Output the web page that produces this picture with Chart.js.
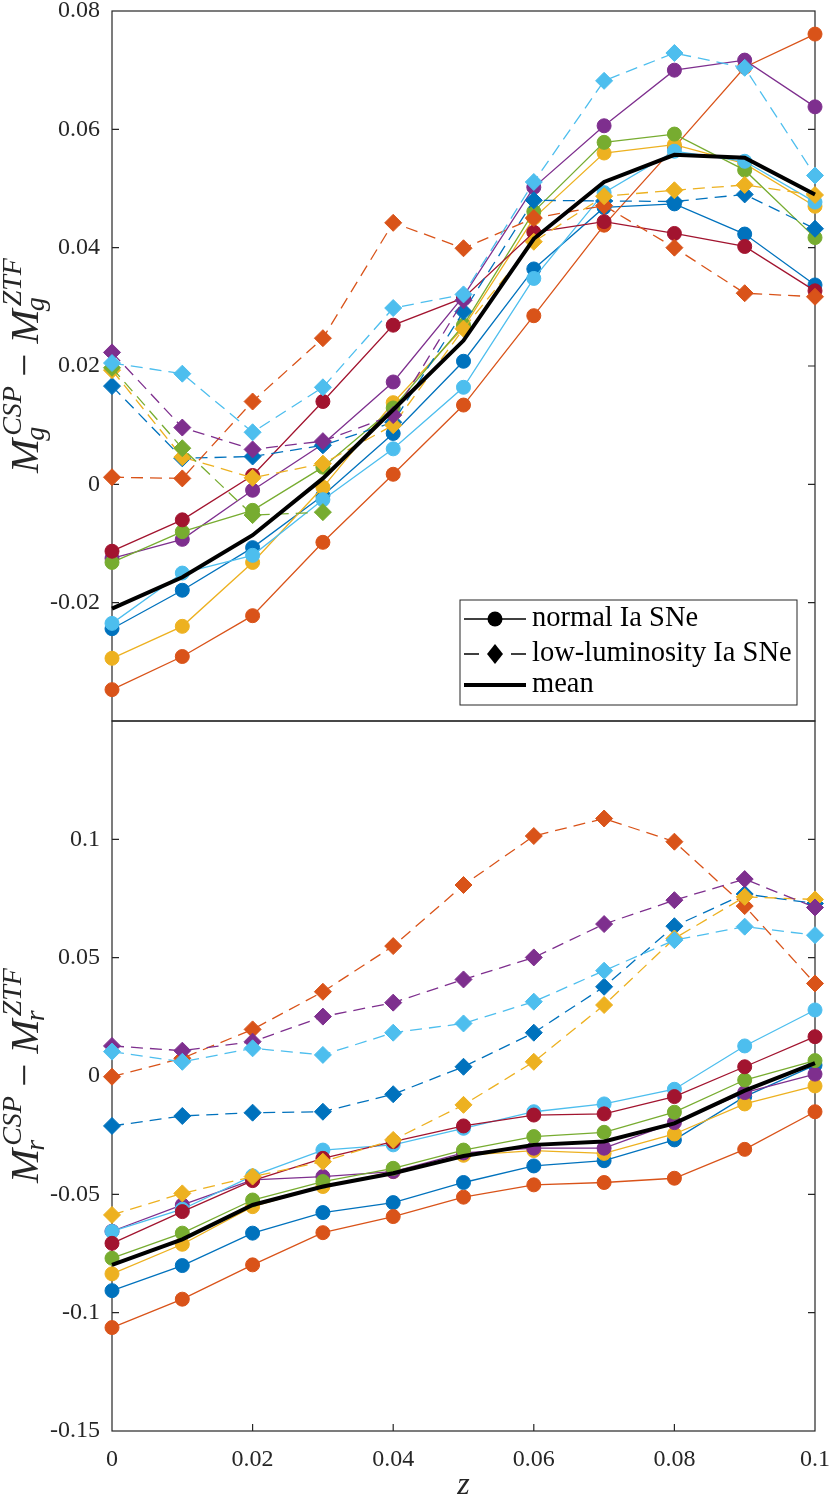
<!DOCTYPE html>
<html>
<head>
<meta charset="utf-8">
<script src="https://cdn.jsdelivr.net/npm/chart.js@4.4.1/dist/chart.umd.min.js"></script>
<style>
  html, body { margin: 0; padding: 0; background: #fff; }
  #wrap { width: 830px; height: 1499px; position: relative; }
</style>
</head>
<body>
<div id="wrap"><canvas id="chart"></canvas></div>
<script>
// redshift grid
const zValues = [0, 0.01, 0.02, 0.03, 0.04, 0.05, 0.06, 0.07, 0.08, 0.09, 0.1];

// matlab default colour order
const snColors = ['#0072BD', '#D95319', '#EDB120', '#7E2F8E', '#77AC30', '#4DBEEE', '#A2142F'];

// g band, normal Ia (circles)
const gNormalBlue   = [-0.0244, -0.0179, -0.0107, -0.0019, 0.0086, 0.0208, 0.0364, 0.0468, 0.0474, 0.0423, 0.0337];
const gNormalOrange = [-0.0347, -0.0291, -0.0222, -0.0098, 0.0017, 0.0134, 0.0285, 0.0438, 0.0570, 0.0705, 0.0761];
const gNormalYellow = [-0.0294, -0.0240, -0.0132, -0.0005, 0.0138, 0.0265, 0.0450, 0.0560, 0.0574, 0.0542, 0.0470];
const gNormalPurple = [-0.0125, -0.0093, -0.0010, 0.0068, 0.0173, 0.0318, 0.0502, 0.0606, 0.0700, 0.0717, 0.0638];
const gNormalGreen  = [-0.0132, -0.0080, -0.0044, 0.0029, 0.0129, 0.0269, 0.0461, 0.0578, 0.0592, 0.0531, 0.0417];
const gNormalCyan   = [-0.0235, -0.0150, -0.0120, -0.0026, 0.0060, 0.0164, 0.0348, 0.0493, 0.0563, 0.0546, 0.0477];
const gNormalRed    = [-0.0113, -0.0060, 0.0015, 0.0140, 0.0269, 0.0315, 0.0426, 0.0444, 0.0424, 0.0402, 0.0327];

// g band, low-luminosity Ia (diamonds)
const gLowBlue   = [0.0166, 0.0044, 0.0047, 0.0066, 0.0105, 0.0292, 0.0480, 0.0479, 0.0478, 0.0490, 0.0432];
const gLowOrange = [0.0012, 0.0010, 0.0140, 0.0247, 0.0442, 0.0399, 0.0450, 0.0471, 0.0400, 0.0323, 0.0317];
const gLowYellow = [0.0193, 0.0046, 0.0011, 0.0035, 0.0100, 0.0263, 0.0410, 0.0487, 0.0497, 0.0506, 0.0489];
const gLowPurple = [0.0223, 0.0096, 0.0059, 0.0073, 0.0117, 0.0311, null, null, null, null, null];
const gLowGreen  = [0.0197, 0.0061, -0.0052, -0.0047, null, null, null, null, null, null, null];
const gLowCyan   = [0.0205, 0.0187, 0.0088, 0.0164, 0.0298, 0.0321, 0.0511, 0.0682, 0.0729, 0.0704, 0.0522];
const gMean      = [-0.0210, -0.0157, -0.0086, 0.0010, 0.0126, 0.0243, 0.0415, 0.0511, 0.0557, 0.0552, 0.0490];

// r band, normal Ia
const rNormalBlue   = [-0.0907, -0.0801, -0.0664, -0.0577, -0.0535, -0.0450, -0.0380, -0.0358, -0.0270, -0.0087, 0.0046];
const rNormalOrange = [-0.1063, -0.0943, -0.0798, -0.0662, -0.0594, -0.0512, -0.0460, -0.0450, -0.0432, -0.0310, -0.0151];
const rNormalYellow = [-0.0836, -0.0711, -0.0552, -0.0467, -0.0404, -0.0335, -0.0315, -0.0327, -0.0245, -0.0118, -0.0042];
const rNormalPurple = [-0.0656, -0.0545, -0.0439, -0.0425, -0.0404, -0.0325, -0.0305, -0.0305, -0.0197, -0.0070, 0.0008];
const rNormalGreen  = [-0.0770, -0.0664, -0.0524, -0.0446, -0.0390, -0.0313, -0.0256, -0.0238, -0.0153, -0.0017, 0.0065];
const rNormalCyan   = [-0.0657, -0.0563, -0.0422, -0.0313, -0.0291, -0.0221, -0.0151, -0.0118, -0.0056, 0.0127, 0.0279];
const rNormalRed    = [-0.0707, -0.0573, -0.0442, -0.0348, -0.0277, -0.0211, -0.0165, -0.0160, -0.0087, 0.0039, 0.0166];

// r band, low-luminosity Ia
const rLowBlue   = [-0.0211, -0.0169, -0.0155, -0.0151, -0.0077, 0.0039, 0.0183, 0.0377, 0.0633, 0.0769, 0.0729];
const rLowOrange = [-0.0003, 0.0075, 0.0197, 0.0356, 0.0549, 0.0807, 0.1014, 0.1088, 0.0990, 0.0718, 0.0391];
const rLowYellow = [-0.0587, -0.0496, -0.0425, -0.0362, -0.0270, -0.0122, 0.0060, 0.0300, 0.0581, 0.0757, 0.0746];
const rLowPurple = [0.0127, 0.0107, 0.0145, 0.0251, 0.0310, 0.0408, 0.0501, 0.0642, 0.0743, 0.0832, 0.0712];
const rLowGreen  = [null, null, null, null, null, null, null, null, null, null, null];
const rLowCyan   = [0.0103, 0.0060, 0.0117, 0.0089, 0.0183, 0.0222, 0.0314, 0.0445, 0.0574, 0.0631, 0.0595];
const rMean      = [-0.0798, -0.0690, -0.0545, -0.0467, -0.0411, -0.0338, -0.0291, -0.0277, -0.0200, -0.0062, 0.0054];

// tick labels
const xTickLabels = ['0', '0.02', '0.04', '0.06', '0.08', '0.1'];
const gTickLabels = ['', '-0.02', '0', '0.02', '0.04', '0.06', '0.08'];
const rTickLabels = ['-0.15', '-0.1', '-0.05', '0', '0.05', '0.1', ''];

const gNormal = [gNormalBlue, gNormalOrange, gNormalYellow, gNormalPurple, gNormalGreen, gNormalCyan, gNormalRed];
const gLow = [gLowBlue, gLowOrange, gLowYellow, gLowPurple, gLowGreen, gLowCyan];
const rNormal = [rNormalBlue, rNormalOrange, rNormalYellow, rNormalPurple, rNormalGreen, rNormalCyan, rNormalRed];
const rLow = [rLowBlue, rLowOrange, rLowYellow, rLowPurple, rLowGreen, rLowCyan];

const axisColor = '#262626';
const serif = '"Liberation Serif", "DejaVu Serif", serif';

function points(vals) {
  return zValues.map((x, i) => ({ x: x, y: vals[i] }));
}

function normalSet(vals, i, axis) {
  return {
    data: points(vals), yAxisID: axis,
    borderColor: snColors[i], backgroundColor: snColors[i],
    borderWidth: 1.3, pointStyle: 'circle', pointRadius: 7, pointBorderWidth: 1,
    order: 40 - i, clip: false
  };
}

function lowSet(vals, i, axis) {
  return {
    data: points(vals), yAxisID: axis,
    borderColor: snColors[i], backgroundColor: snColors[i],
    borderWidth: 1.3, borderDash: [12, 7], pointStyle: 'rectRot', pointRadius: 8.5, pointBorderWidth: 1,
    order: 20 - i, clip: false
  };
}

function meanSet(vals, axis) {
  return {
    data: points(vals), yAxisID: axis,
    borderColor: '#000', backgroundColor: '#000',
    borderWidth: 4, pointRadius: 0, order: 0, clip: false
  };
}

const datasets = [];
gNormal.forEach((v, i) => datasets.push(normalSet(v, i, 'yg')));
rNormal.forEach((v, i) => datasets.push(normalSet(v, i, 'yr')));
gLow.forEach((v, i) => datasets.push(lowSet(v, i, 'yg')));
rLow.forEach((v, i) => datasets.push(lowSet(v, i, 'yr')));
datasets.push(meanSet(gMean, 'yg'));
datasets.push(meanSet(rMean, 'yr'));

// pick a label from a list by tick position
function labelFrom(list) {
  return function (value, index) { return list[index]; };
}

// axes box with inward ticks, like matlab
const framePlugin = {
  id: 'frame',
  beforeDatasetsDraw(chart) {
    const ctx = chart.ctx;
    const x = chart.scales.x, yg = chart.scales.yg, yr = chart.scales.yr;
    const left = chart.chartArea.left, right = chart.chartArea.right;
    ctx.save();
    ctx.strokeStyle = axisColor;
    ctx.lineWidth = 1.2;
    ctx.strokeRect(left, yg.top, right - left, yg.bottom - yg.top);
    ctx.strokeRect(left, yr.top, right - left, yr.bottom - yr.top);
    const tl = 7;
    ctx.beginPath();
    [yg, yr].forEach(s => {
      s.ticks.forEach(t => {
        const py = s.getPixelForValue(t.value);
        if (py <= s.top + 1 || py >= s.bottom - 1) return;
        ctx.moveTo(left, py); ctx.lineTo(left + tl, py);
        ctx.moveTo(right, py); ctx.lineTo(right - tl, py);
      });
    });
    x.ticks.forEach(t => {
      const px = x.getPixelForValue(t.value);
      if (px <= left + 1 || px >= right - 1) return;
      ctx.moveTo(px, yr.bottom); ctx.lineTo(px, yr.bottom - tl);
    });
    ctx.stroke();
    ctx.restore();
  }
};

// y labels with sub/superscripts
function drawMagLabel(ctx, band, cx, cy) {
  const big = 'italic 41px ' + serif;
  const small = 'italic 28px ' + serif;
  const rom = '41px ' + serif;
  ctx.save();
  ctx.translate(cx, cy);
  ctx.rotate(-Math.PI / 2);
  ctx.fillStyle = axisColor;
  ctx.textBaseline = 'alphabetic';
  ctx.textAlign = 'left';
  const w = (f, s) => { ctx.font = f; return ctx.measureText(s).width; };
  const wM = w(big, 'M');
  const w1 = Math.max(w(small, 'CSP'), w(small, band));
  const wMinus = w(rom, ' \u2212 ');
  const w2 = Math.max(w(small, 'ZTF'), w(small, band));
  let px = -(wM + 2 + w1 + wMinus + wM + 2 + w2) / 2;
  const part = (f, s, x, y) => { ctx.font = f; ctx.fillText(s, x, y); };
  part(big, 'M', px, 0);
  part(small, 'CSP', px + wM + 3, -17);
  part(small, band, px + wM - 2, 6);
  px += wM + 2 + w1;
  part(rom, ' \u2212 ', px, 0);
  px += wMinus;
  part(big, 'M', px, 0);
  part(small, 'ZTF', px + wM + 3, -17);
  part(small, band, px + wM - 2, 6);
  ctx.restore();
}

const labelPlugin = {
  id: 'maglabels',
  afterDraw(chart) {
    const ctx = chart.ctx;
    const yg = chart.scales.yg, yr = chart.scales.yr;
    drawMagLabel(ctx, 'g', 38, (yg.top + yg.bottom) / 2);
    drawMagLabel(ctx, 'r', 38, (yr.top + yr.bottom) / 2);
  }
};

// legend box in the lower right of the g panel
const legendPlugin = {
  id: 'boxlegend',
  afterDraw(chart) {
    const ctx = chart.ctx;
    const yg = chart.scales.yg;
    const right = chart.chartArea.right - 18;
    const bottom = yg.bottom - 16;
    const bw = 337, bh = 105;
    const left = right - bw, top = bottom - bh;
    ctx.save();
    ctx.fillStyle = '#fff';
    ctx.fillRect(left, top, bw, bh);
    ctx.strokeStyle = axisColor;
    ctx.lineWidth = 1;
    ctx.strokeRect(left, top, bw, bh);
    const x0 = left + 4, x1 = left + 66, xm = left + 35;
    const rows = [top + 19, top + 54, top + 85];
    ctx.strokeStyle = '#000';
    ctx.fillStyle = '#000';
    // normal
    ctx.lineWidth = 1.3;
    ctx.beginPath(); ctx.moveTo(x0, rows[0]); ctx.lineTo(x1, rows[0]); ctx.stroke();
    ctx.beginPath(); ctx.arc(xm, rows[0], 7.5, 0, Math.PI * 2); ctx.fill();
    // low luminosity
    ctx.beginPath();
    ctx.moveTo(x0, rows[1]); ctx.lineTo(x0 + 15, rows[1]);
    ctx.moveTo(x1 - 15, rows[1]); ctx.lineTo(x1, rows[1]);
    ctx.stroke();
    ctx.beginPath();
    ctx.moveTo(xm - 8, rows[1]); ctx.lineTo(xm, rows[1] - 10);
    ctx.lineTo(xm + 8, rows[1]); ctx.lineTo(xm, rows[1] + 10);
    ctx.closePath(); ctx.fill();
    // mean
    ctx.lineWidth = 4;
    ctx.beginPath(); ctx.moveTo(x0, rows[2]); ctx.lineTo(x1, rows[2]); ctx.stroke();
    ctx.font = '28.5px ' + serif;
    ctx.textBaseline = 'middle';
    ctx.fillText('normal Ia SNe', x1 + 6, rows[0]);
    ctx.fillText('low-luminosity Ia SNe', x1 + 6, rows[1]);
    ctx.fillText('mean', x1 + 6, rows[2]);
    ctx.restore();
  }
};

const tickFont = { family: serif, size: 24 };

new Chart(document.getElementById('chart'), {
  type: 'line',
  data: { datasets: datasets },
  plugins: [framePlugin, labelPlugin, legendPlugin],
  options: {
    responsive: true,
    maintainAspectRatio: false,
    animation: false,
    events: [],
    layout: { padding: { top: 11, right: 15, left: 0, bottom: 0 } },
    plugins: { legend: { display: false }, tooltip: { enabled: false } },
    scales: {
      x: {
        type: 'linear', min: 0, max: 0.1,
        ticks: { stepSize: 0.02, callback: labelFrom(xTickLabels), font: tickFont, color: axisColor, padding: 6, maxRotation: 0, autoSkip: false },
        grid: { display: false }, border: { display: false },
        title: { display: true, text: 'z', color: axisColor, font: { family: serif, size: 32, style: 'italic' }, padding: { top: 0, bottom: -6 } },
        afterFit(s) { s.height = 68; s.paddingLeft = 0; s.paddingRight = 0; }
      },
      yr: {
        type: 'linear', position: 'left', stack: 'panels', stackWeight: 1,
        min: -0.15, max: 0.15,
        ticks: { stepSize: 0.05, callback: labelFrom(rTickLabels), font: tickFont, color: axisColor, padding: 4, autoSkip: false },
        grid: { display: false }, border: { display: false },
        afterFit(s) { s.width = 112; s.paddingTop = 0; s.paddingBottom = 0; }
      },
      yg: {
        type: 'linear', position: 'left', stack: 'panels', stackWeight: 1,
        min: -0.04, max: 0.08,
        ticks: { stepSize: 0.02, callback: labelFrom(gTickLabels), font: tickFont, color: axisColor, padding: 4, autoSkip: false },
        grid: { display: false }, border: { display: false },
        afterFit(s) { s.width = 112; s.paddingTop = 0; s.paddingBottom = 0; }
      }
    }
  }
});
</script>
</body>
</html>
